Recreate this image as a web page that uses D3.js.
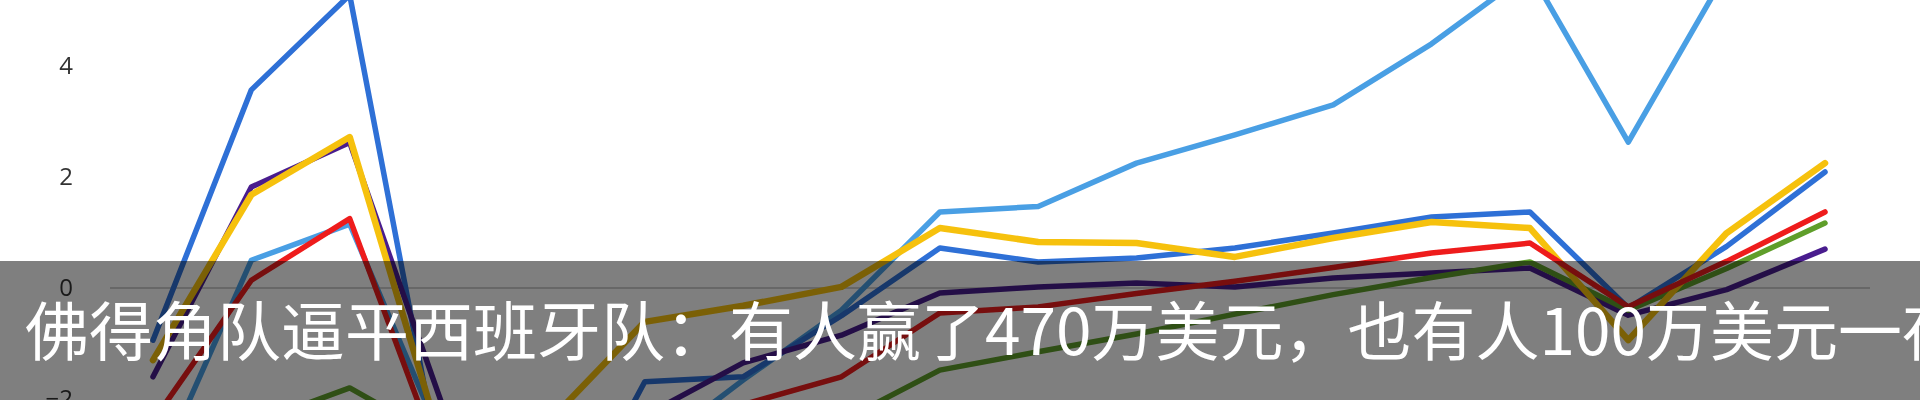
<!DOCTYPE html>
<html>
<head>
<meta charset="utf-8">
<script src="https://cdn.jsdelivr.net/npm/d3@7/dist/d3.min.js"></script>
<style>
  html, body { margin: 0; padding: 0; background: #ffffff; overflow: hidden; }
  svg { display: block; }
</style>
</head>
<body>
<svg id="chart" width="1920" height="400"></svg>
<script>
// ---- data ----
const categories = ["1","2","3","4","5","6","7","8","9","10","11","12","13","14","15","16","17","18"];
const yTicks = [-2, 0, 2, 4];

const seriesLightBlue = [-3.5, 0.5, 1.15, -3.0, -4.0, -3.0, -1.66, -0.4, 1.37, 1.47, 2.25, 2.76, 3.3, 4.4, 5.7, 2.63, 5.7, 6.5];
const seriesBlue      = [-0.94, 3.57, 5.28, -4.0, -5.0, -1.69, -1.6, -0.5, 0.72, 0.47, 0.54, 0.72, 0.99, 1.28, 1.37, -0.36, 0.75, 2.09];
const seriesPurple    = [-1.6, 1.82, 2.62, -2.4, -3.0, -2.3, -1.35, -0.85, -0.09, 0.02, 0.09, 0.02, 0.18, 0.27, 0.36, -0.49, -0.03, 0.7];
const seriesGreen     = [-3.0, -2.45, -1.8, -2.8, -3.5, -3.3, -3.0, -2.4, -1.48, -1.15, -0.83, -0.47, -0.12, 0.19, 0.47, -0.4, 0.35, 1.17];
const seriesYellow    = [-1.3, 1.68, 2.72, -3.2, -2.45, -0.61, -0.32, 0.02, 1.08, 0.83, 0.81, 0.56, 0.9, 1.19, 1.08, -0.94, 0.99, 2.25];
const seriesRed       = [-2.4, 0.14, 1.25, -3.5, -3.3, -2.9, -2.1, -1.6, -0.45, -0.34, -0.1, 0.12, 0.37, 0.63, 0.81, -0.34, 0.48, 1.37];

const captionText = "佛得角队逼平西班牙队：有人赢了470万美元，也有人100万美元一夜";

// ---- drawing ----
const svg = d3.select("#chart");
const W = 1920, H = 400;

const x = d3.scalePoint().domain(categories).range([153, 1825]);
const y = d3.scaleLinear().domain([-2, 4]).range([399, 66]);

const defs = svg.append("defs");
defs.append("filter").attr("id", "soft")
  .attr("x", "-5%").attr("y", "-5%").attr("width", "110%").attr("height", "110%")
  .append("feGaussianBlur").attr("stdDeviation", 0.7);
defs.append("clipPath").attr("id", "plotclip")
  .append("rect").attr("x", 0).attr("y", 0).attr("width", W).attr("height", H);

// zero line
svg.append("line")
  .attr("x1", 110).attr("x2", 1870)
  .attr("y1", y(0)).attr("y2", y(0))
  .attr("stroke", "#cfcfcf").attr("stroke-width", 2);

// y axis labels
const yAxis = d3.axisLeft(y).tickValues(yTicks).tickSize(0).tickPadding(0)
  .tickFormat(d3.format("d"));
const gAxis = svg.append("g").attr("transform", "translate(73,0)").call(yAxis);
gAxis.select(".domain").remove();
gAxis.selectAll("text")
  .attr("fill", "#333333")
  .style("font-family", "'Open Sans', 'DejaVu Sans', sans-serif")
  .style("font-size", "24px")
  .attr("filter", "url(#soft)");

// lines (drawing order bottom -> top)
const series = [
  { name: "lightblue", values: seriesLightBlue, color: "#4a9fe4", width: 5.5 },
  { name: "blue",      values: seriesBlue,      color: "#2f6fd6", width: 5.5 },
  { name: "purple",    values: seriesPurple,    color: "#4a1f8e", width: 5.5 },
  { name: "green",     values: seriesGreen,     color: "#5f9e2a", width: 5.5 },
  { name: "yellow",    values: seriesYellow,    color: "#f6c110", width: 6.5 },
  { name: "red",       values: seriesRed,       color: "#ee1b1b", width: 5.5 }
];

const line = d3.line()
  .x((d, i) => x(categories[i]))
  .y(d => y(d));

const gLines = svg.append("g").attr("clip-path", "url(#plotclip)");
gLines.selectAll("path.series")
  .data(series)
  .join("path")
  .attr("class", "series")
  .attr("d", d => line(d.values))
  .attr("fill", "none")
  .attr("stroke", d => d.color)
  .attr("stroke-width", d => d.width)
  .attr("stroke-linejoin", "round")
  .attr("stroke-linecap", "round")
  .attr("filter", "url(#soft)");

// caption overlay band
svg.append("rect")
  .attr("x", 0).attr("y", 261).attr("width", W).attr("height", H - 261)
  .attr("fill", "rgba(0,0,0,0.5)");

svg.append("text")
  .attr("x", 25).attr("y", 355)
  .attr("fill", "#ffffff")
  .style("font-family", "'Noto Sans CJK SC', 'Noto Sans', sans-serif")
  .style("font-size", "64px")
  .text(captionText);
</script>
</body>
</html>
